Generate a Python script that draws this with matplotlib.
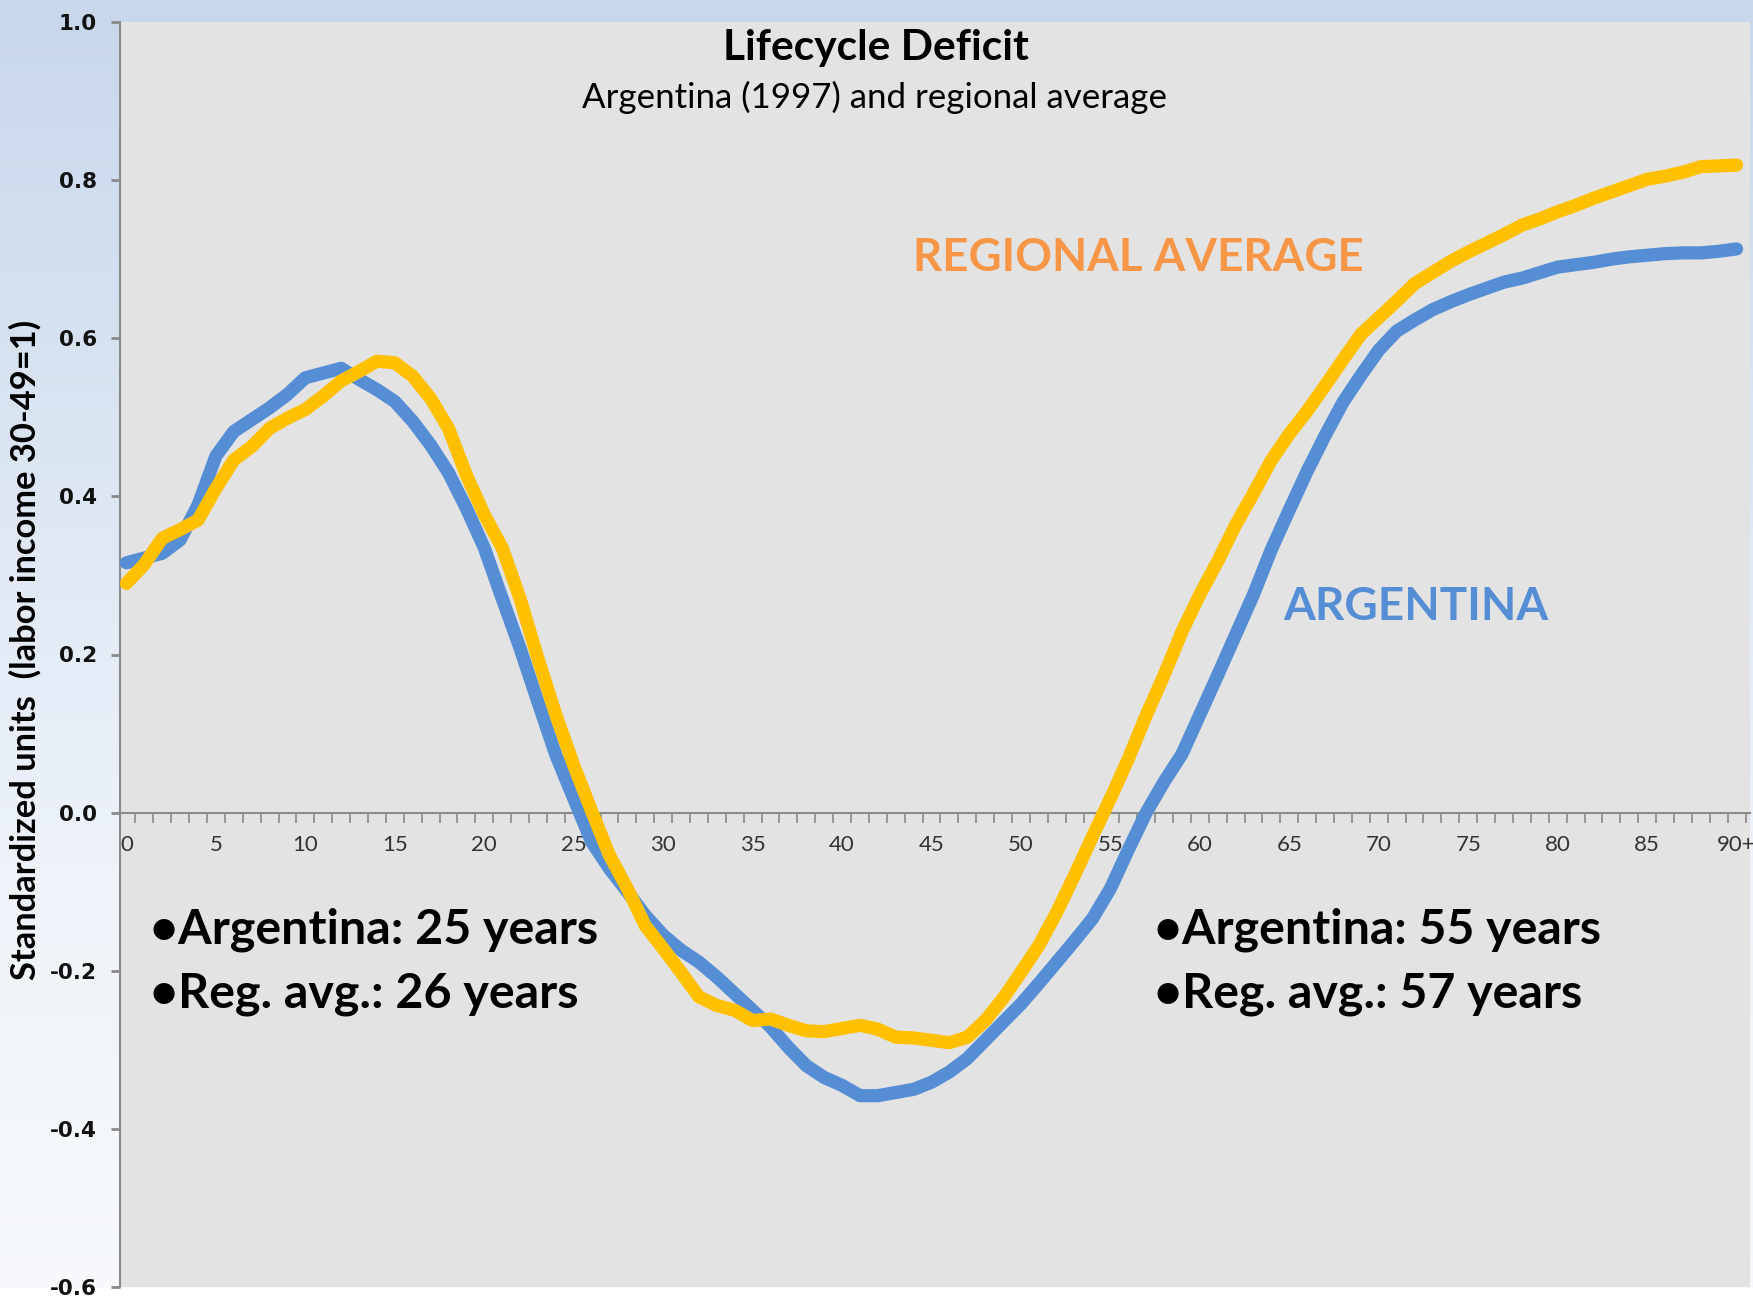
import numpy as np
import matplotlib
matplotlib.use("Agg")
import matplotlib.pyplot as plt
from matplotlib.colors import LinearSegmentedColormap

# ---------------- data ----------------
ages = list(range(0, 91))
age_tick_values = list(range(0, 91, 5))
age_tick_labels = [str(a) for a in range(0, 90, 5)] + ["90+"]
y_ticks = [-0.6, -0.4, -0.2, 0.0, 0.2, 0.4, 0.6, 0.8, 1.0]
y_tick_labels = ["-0.6", "-0.4", "-0.2", "0.0", "0.2", "0.4", "0.6", "0.8", "1.0"]

argentina = [
    0.316, 0.322, 0.328, 0.345, 0.389, 0.451, 0.482, 0.497, 0.512, 0.529,
    0.550, 0.556, 0.562, 0.548, 0.535, 0.520, 0.495, 0.465, 0.430, 0.385,
    0.335, 0.271, 0.208, 0.140, 0.073, 0.018, -0.037, -0.071, -0.100, -0.130,
    -0.155, -0.174, -0.189, -0.208, -0.229, -0.250, -0.271, -0.297, -0.320, -0.335,
    -0.345, -0.358, -0.358, -0.354, -0.350, -0.341, -0.328, -0.311, -0.288, -0.265,
    -0.242, -0.216, -0.189, -0.162, -0.134, -0.096, -0.047, 0.000, 0.039, 0.074,
    0.124, 0.174, 0.225, 0.276, 0.333, 0.383, 0.432, 0.477, 0.519, 0.553,
    0.585, 0.609, 0.623, 0.636, 0.646, 0.655, 0.663, 0.671, 0.676, 0.683,
    0.690, 0.693, 0.696, 0.700, 0.703, 0.705, 0.707, 0.708, 0.708, 0.710,
    0.713,
]
regional = [
    0.290, 0.314, 0.347, 0.358, 0.370, 0.410, 0.446, 0.463, 0.486, 0.499,
    0.510, 0.527, 0.546, 0.558, 0.571, 0.569, 0.552, 0.524, 0.486, 0.427,
    0.377, 0.335, 0.271, 0.195, 0.124, 0.060, 0.002, -0.054, -0.096, -0.143,
    -0.172, -0.202, -0.233, -0.244, -0.250, -0.263, -0.261, -0.269, -0.276, -0.277,
    -0.273, -0.269, -0.274, -0.284, -0.285, -0.288, -0.291, -0.284, -0.263, -0.235,
    -0.202, -0.168, -0.126, -0.079, -0.030, 0.018, 0.068, 0.123, 0.174, 0.229,
    0.276, 0.318, 0.364, 0.404, 0.446, 0.479, 0.508, 0.540, 0.573, 0.605,
    0.626, 0.647, 0.669, 0.683, 0.697, 0.709, 0.720, 0.731, 0.743, 0.751,
    0.760, 0.768, 0.777, 0.785, 0.793, 0.801, 0.805, 0.810, 0.817, 0.818,
    0.819,
]

title = "Lifecycle Deficit"
subtitle = "Argentina (1997) and regional average"
y_label = "Standardized units  (labor income 30-49=1)"
lbl_regional = "REGIONAL AVERAGE"
lbl_argentina = "ARGENTINA"
notes_left = ["\u2022Argentina: 25 years", "\u2022Reg. avg.: 26 years"]
notes_right = ["\u2022Argentina: 55 years", "\u2022Reg. avg.: 57 years"]

# ---------------- style ----------------
W, H = 1753, 1307
BLUE = "#558ed5"
YELLOW = "#ffc000"
ORANGE = "#f79646"
GRAY = "#8a8a8a"
CAL = ["Lato", "DejaVu Sans"]

fig = plt.figure(figsize=(W / 100, H / 100), dpi=100)

def fx(x):
    return x / W

def fy(y):
    return 1 - y / H

# slide-like background
bg = fig.add_axes([0, 0, 1, 1], zorder=-10)
bg.set_axis_off()
cmap = LinearSegmentedColormap.from_list("bgc", ["#c8d7ea", "#dbe5f2", "#eef3f9", "#f7f9fc"])
grad = np.linspace(0, 1, 256).reshape(-1, 1)
bg.imshow(grad, aspect="auto", cmap=cmap, extent=[0, 1, 0, 1], origin="upper")
bg.axhspan(0, 19 / H, color="white")
bg.set_xlim(0, 1)
bg.set_ylim(0, 1)

# main axes
L, R, T, B = 120, 1750, 22, 1287
ax = fig.add_axes([fx(L), fy(B), (R - L) / W, (B - T) / H])
ax.set_facecolor("#e3e3e3")

ax.plot(ages, argentina, color=BLUE, lw=9.5, solid_capstyle="round", solid_joinstyle="round", zorder=3)
ax.plot(ages, regional, color=YELLOW, lw=9.5, solid_capstyle="round", solid_joinstyle="round", zorder=4)

ax.set_ylim(-0.6, 1.0)
ax.set_xlim(-0.36, 90.75)

for s in ["top", "right"]:
    ax.spines[s].set_visible(False)
ax.spines["left"].set_color(GRAY)
ax.spines["left"].set_linewidth(1.5)
ax.spines["bottom"].set_position(("data", 0))
ax.spines["bottom"].set_color(GRAY)
ax.spines["bottom"].set_linewidth(1.5)

ax.set_yticks(y_ticks)
ax.set_yticklabels(y_tick_labels, fontsize=15.5, fontweight="bold", family="DejaVu Sans", color="#111111")
ax.tick_params(axis="y", direction="out", length=6.5, width=2, color=GRAY, pad=10)

ax.set_xticks(age_tick_values)
ax.set_xticklabels(age_tick_labels, fontsize=16, family=CAL, color="#333333")
ax.set_xticks(np.arange(0.5, 91, 1), minor=True)
ax.tick_params(axis="x", which="major", length=0, pad=16)
ax.tick_params(axis="x", which="minor", direction="out", length=7, width=1.2, color=GRAY)

# texts
texts = []

def put(s, x0, base, target_w, **kw):
    t = fig.text(fx(x0), fy(base), s, ha="left", va="baseline", fontsize=30, family=CAL, **kw)
    texts.append((t, target_w, "w"))
    return t

put(title, 723, 60, 306, fontweight="bold", color="black")
put(subtitle, 582, 108, 586, color="black")
put(lbl_regional, 913, 271, 451, fontweight="bold", color=ORANGE)
put(lbl_argentina, 1283, 620, 265, fontweight="bold", color=BLUE)
put(notes_left[0], 150, 943, 448, fontweight="bold", color="black")
put(notes_left[1], 150, 1007, 429, fontweight="bold", color="black")
put(notes_right[0], 1154, 943, 447, fontweight="bold", color="black")
put(notes_right[1], 1154, 1007, 429, fontweight="bold", color="black")

yl = fig.text(fx(25), fy(650), y_label, rotation=90, ha="center", va="center",
              fontsize=20, family=CAL, fontweight="bold", color="black")
texts.append((yl, 660, "h"))

for _ in range(2):
    fig.canvas.draw()
    r = fig.canvas.get_renderer()
    for t, tw, mode in texts:
        bb = t.get_window_extent(r)
        cur = bb.width if mode == "w" else bb.height
        t.set_fontsize(t.get_fontsize() * tw / cur)

fig.savefig("out.png", dpi=100)
